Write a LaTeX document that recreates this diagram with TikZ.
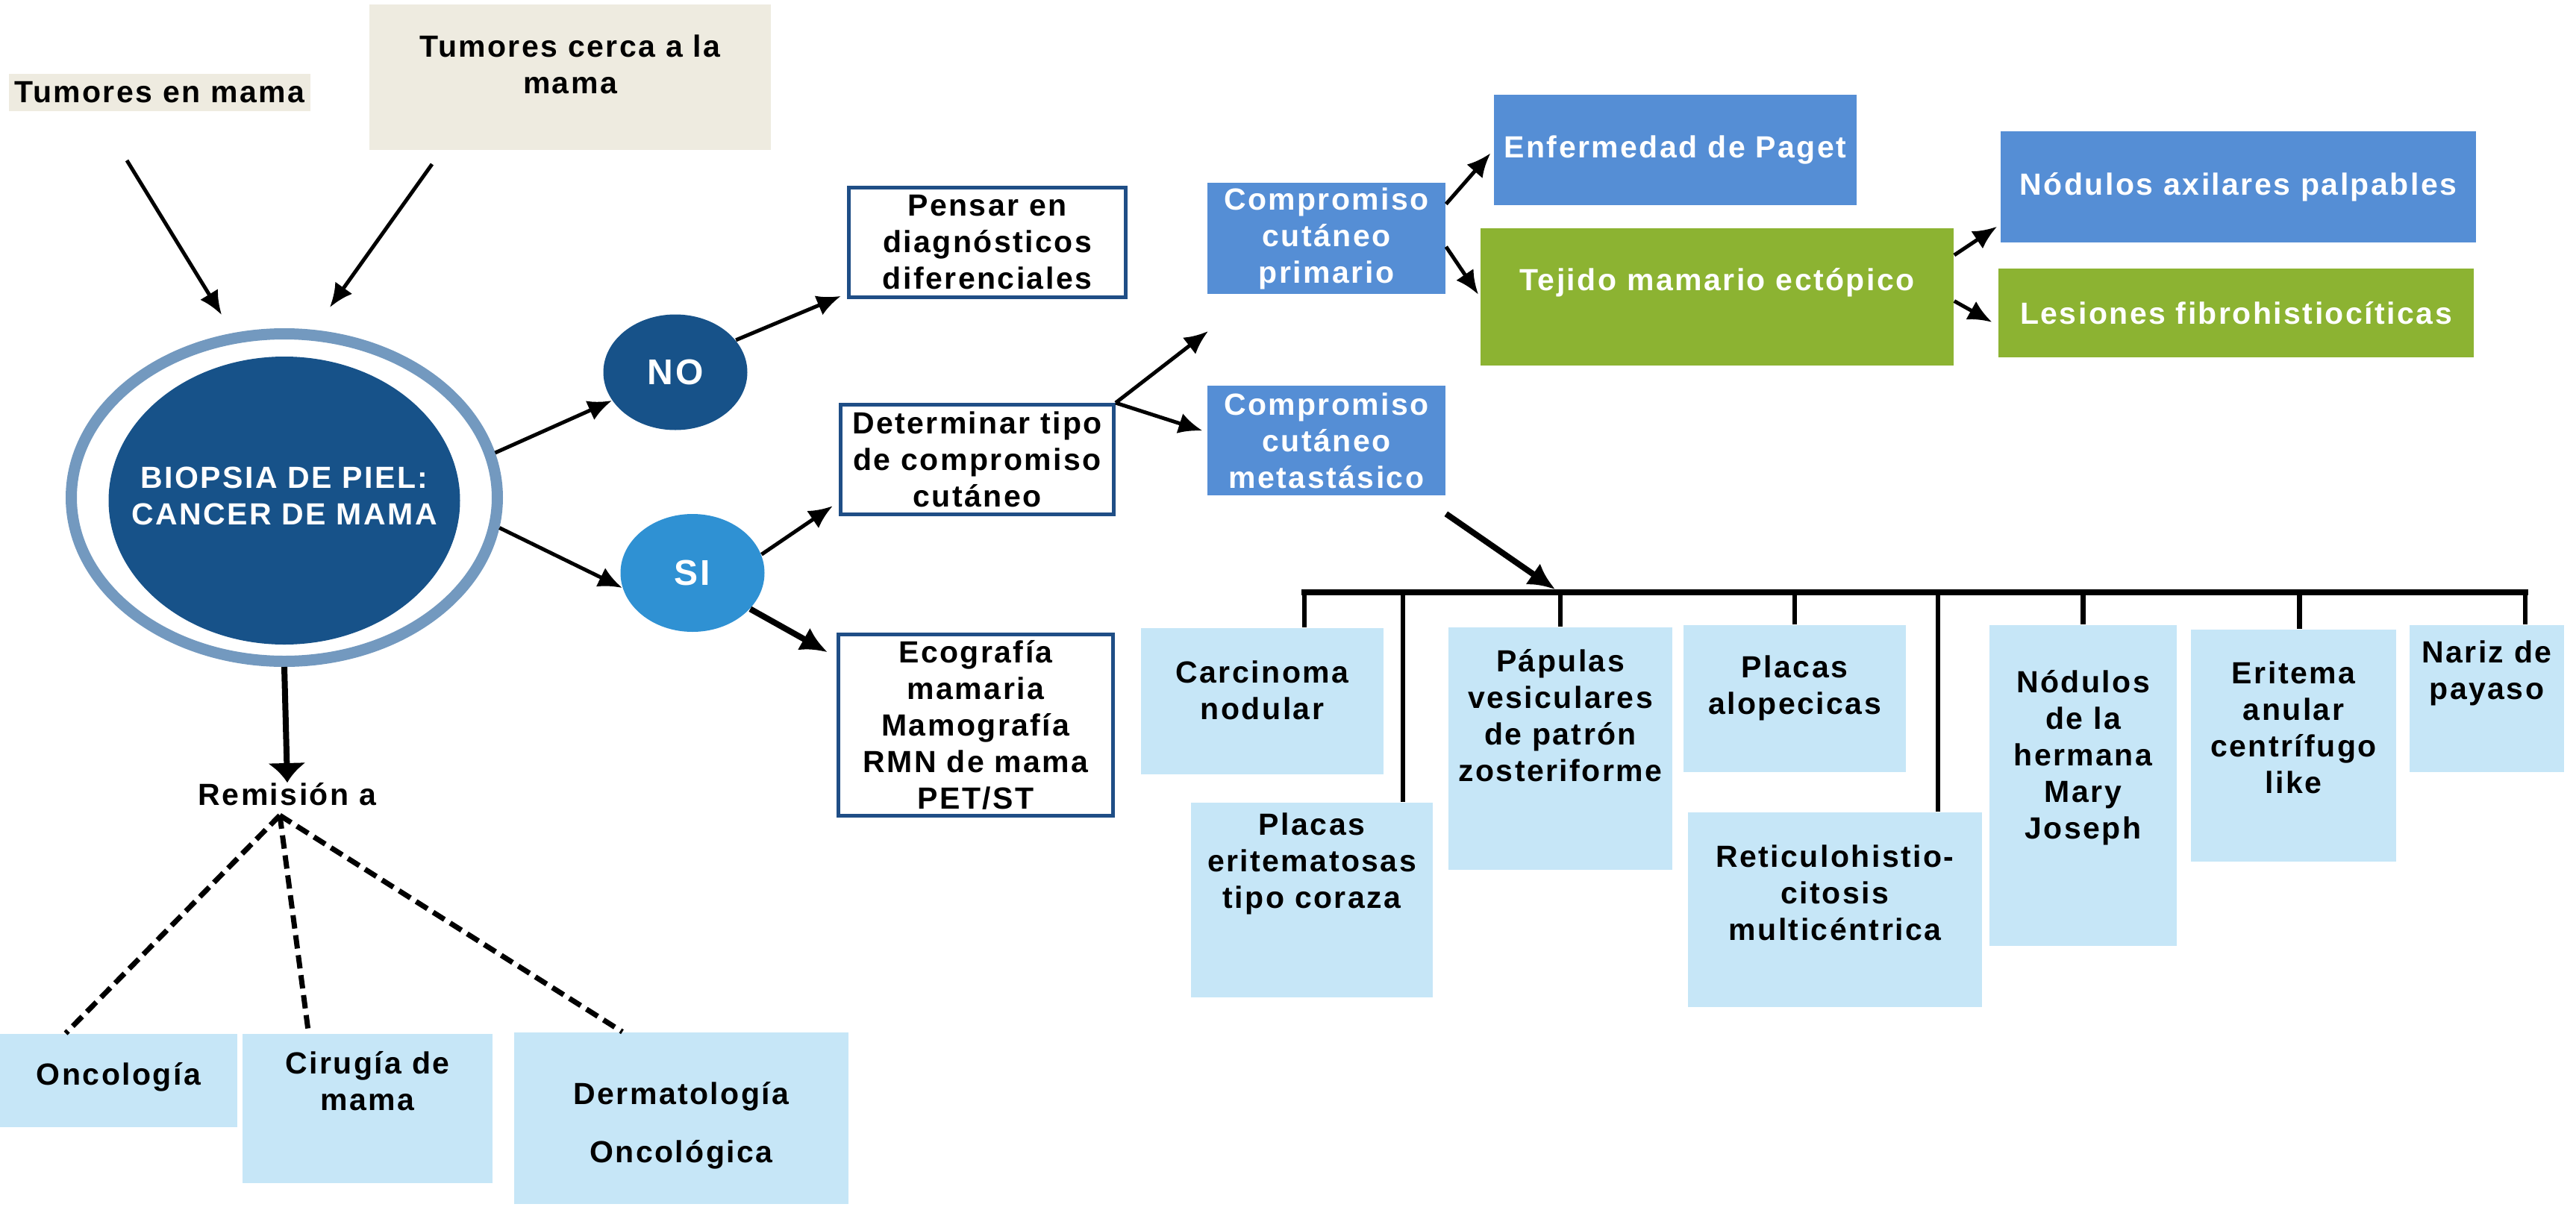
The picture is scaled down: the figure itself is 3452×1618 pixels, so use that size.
\documentclass[tikz,border=0pt]{standalone}
\usepackage{fontspec}
\setmainfont{Liberation Sans}[LetterSpace=6]
\usepackage{tikz}
\usetikzlibrary{arrows.meta}
\usetikzlibrary{shapes.geometric}
\definecolor{beige}{HTML}{EEEBE0}
\definecolor{ringblue}{HTML}{7399BF}
\definecolor{darkblue}{HTML}{175289}
\definecolor{siblue}{HTML}{2F91D3}
\definecolor{midblue}{HTML}{558ED5}
\definecolor{leafgreen}{HTML}{8CB332}
\definecolor{paleblue}{HTML}{C6E6F7}
\definecolor{frameblue}{HTML}{1F4E86}
\tikzstyle{tanbox}=[rectangle, inner sep=0pt, fill=beige]
\tikzstyle{ring}=[ellipse, inner sep=0pt, draw=ringblue, line width=3.75pt]
\tikzstyle{core}=[ellipse, inner sep=0pt, fill=darkblue]
\tikzstyle{bubble}=[ellipse, inner sep=0pt, text=white, font=\bfseries\fontsize{12}{14}\selectfont]
\tikzstyle{framebox}=[rectangle, inner sep=0pt, draw=frameblue, line width=1.25pt, fill=white, align=center]
\tikzstyle{midbox}=[rectangle, inner sep=0pt, fill=midblue, text=white, align=center]
\tikzstyle{leafbox}=[rectangle, inner sep=0pt, fill=leafgreen, text=white, align=center]
\tikzstyle{palebox}=[rectangle, inner sep=0pt, fill=paleblue]
\tikzstyle{txt}=[inner sep=0pt, align=center]
\tikzstyle{edge}=[-{Latex[length=8pt, width=7pt]}, line width=1.25pt]
\tikzstyle{bigedge}=[-{Latex[length=9pt, width=8.5pt]}, line width=2pt]
\tikzstyle{downedge}=[-{Latex[length=6.5pt, width=13pt]}, line width=2pt]
\tikzstyle{dashline}=[line width=1.75pt, dash pattern=on 4.5pt off 2.25pt]
\tikzstyle{rail}=[line width=2pt, line cap=rect]
\tikzstyle{drop}=[line width=1.7pt]

\begin{document}
\begin{tikzpicture}[x=0.25pt, y=-0.25pt, font=\bfseries\fontsize{10.25}{12.25}\selectfont]
\useasboundingbox (0,0) rectangle (3452,1618);

\draw (214,124) node[tanbox, minimum width=101pt, minimum height=12.5pt] (tumEn) {Tumores en mama};
\draw (764,103) node[tanbox, minimum width=134.5pt, minimum height=48.75pt] (tumCerca) {};
\draw (tumCerca) node[txt, yshift=4.25pt] (tumCercaT) {Tumores cerca a la\\mama};

\draw (381,667) node[ring, minimum width=142.75pt, minimum height=109.75pt] (bio) {};
\draw (381,671) node[core, minimum width=117.75pt, minimum height=96.5pt] (bioCore) {};
\draw (bioCore) node[txt, text=white, yshift=1.5pt] (bioT) {BIOPSIA DE PIEL:\\CANCER DE MAMA};

\draw (905,499) node[bubble, fill=darkblue, minimum width=48.25pt, minimum height=38.75pt] (no) {NO};
\draw (928,768) node[bubble, fill=siblue, minimum width=48.25pt, minimum height=39.5pt] (si) {SI};

\draw (1323,325) node[framebox, minimum width=92.75pt, minimum height=36.75pt] (pensar) {Pensar en\\diagnósticos\\diferenciales};
\draw (1309.5,616) node[framebox, minimum width=91.5pt, minimum height=36.75pt] (det) {Determinar tipo\\de compromiso\\cutáneo};
\draw (1307.5,972) node[framebox, minimum width=92pt, minimum height=60.75pt] (eco) {Ecografía\\mamaria\\Mamografía\\RMN de mama\\PET/ST};

\draw (1777.5,319.5) node[midbox, minimum width=79.75pt, minimum height=37.25pt] (prim) {Compromiso\\cutáneo\\primario};
\draw (1777.5,590.5) node[midbox, minimum width=79.75pt, minimum height=36.75pt] (met) {Compromiso\\cutáneo\\metastásico};
\draw (2245,201) node[midbox, minimum width=121.5pt, minimum height=37pt] (paget) {Enfermedad de Paget};
\draw (2301,398) node[leafbox, minimum width=158.5pt, minimum height=46pt] (tej) {};
\draw (tej) node[txt, text=white, yshift=4.75pt] (tejT) {Tejido mamario ectópico};
\draw (2999.5,250.5) node[midbox, minimum width=159.25pt, minimum height=37.25pt] (nax) {Nódulos axilares palpables};
\draw (2996.5,419.5) node[leafbox, minimum width=159.25pt, minimum height=29.75pt] (les) {Lesiones fibrohistiocíticas};

\draw (385,1065) node[txt] (rem) {Remisión a};
\draw (159,1448.5) node[palebox, minimum width=79.5pt, minimum height=31.25pt] (onc) {};
\draw (onc) node[txt, yshift=1.25pt] (oncT) {Oncología};
\draw (492.5,1486) node[palebox, minimum width=83.75pt, minimum height=50pt] (cir) {};
\draw (cir) node[txt, yshift=9.1pt] (cirT) {Cirugía de\\mama};
\draw (913,1499) node[palebox, minimum width=112pt, minimum height=57.5pt] (derm) {};
\draw (derm) node[txt, yshift=-2.5pt] (dermT) {Dermatología\\[7.25pt]Oncológica};

\draw (1691.5,940) node[palebox, minimum width=81.25pt, minimum height=49pt] (carc) {};
\draw (carc) node[txt, yshift=3.75pt] (carcT) {Carcinoma\\nodular};
\draw (1758,1206.5) node[palebox, minimum width=81pt, minimum height=65.25pt] (perit) {};
\draw (perit) node[txt, yshift=12.25pt] (peritT) {Placas\\eritematosas\\tipo coraza};
\draw (2091,1003.5) node[palebox, minimum width=75pt, minimum height=81.25pt] (pap) {};
\draw (pap) node[txt, yshift=11pt] (papT) {Pápulas\\vesiculares\\de patrón\\zosteriforme};
\draw (2405,936.5) node[palebox, minimum width=74.5pt, minimum height=49.25pt] (alop) {};
\draw (alop) node[txt, yshift=3.6pt] (alopT) {Placas\\alopecicas};
\draw (2459,1219.5) node[palebox, minimum width=98.5pt, minimum height=65.25pt] (ret) {};
\draw (ret) node[txt, yshift=5.75pt] (retT) {Reticulohistio-\\citosis\\multicéntrica};
\draw (2791.5,1053) node[palebox, minimum width=62.75pt, minimum height=107.5pt] (nher) {};
\draw (nher) node[txt, yshift=9.25pt] (nherT) {Nódulos\\de la\\hermana\\Mary\\Joseph};
\draw (3073.5,999.5) node[palebox, minimum width=68.75pt, minimum height=77.75pt] (erit) {};
\draw (erit) node[txt, yshift=6.1pt] (eritT) {Eritema\\anular\\centrífugo\\like};
\draw (3332.5,936.5) node[palebox, minimum width=51.75pt, minimum height=49.25pt] (nariz) {};
\draw (nariz) node[txt, yshift=8.5pt] (narizT) {Nariz de\\payaso};

\coordinate (in1) at (170,215);
\coordinate (in1e) at (297,422);
\coordinate (in2) at (579,220);
\coordinate (in2e) at (442,412);
\coordinate (primTip) at (1619,444);
\coordinate (metOut) at ([yshift=-6pt]met.south east);
\coordinate (hook) at (2084,790);
\coordinate (barL) at (1748,794);
\coordinate (barR) at (3384,794);
\coordinate (fan) at ([xshift=-2.5pt, yshift=-3pt]rem.south);

\draw[edge] (in1) -- (in1e);
\draw[edge] (in2) -- (in2e);
\draw[edge] (bio.12) -- (no);
\draw[edge] (bio.-8) -- (si.192);
\draw[edge, shorten >=2.25pt] (no.28) -- (pensar.200);
\draw[edge, shorten >=2.5pt] (si.15) -- (det.197);
\draw[bigedge, shorten >=3.5pt] (si.-32) -- (eco.154);
\draw[edge] (det.north east) -- (primTip);
\draw[edge, shorten >=1.5pt] (det.north east) -- (met.176);
\draw[edge, shorten >=1.5pt] (prim.16) -- (paget.west);
\draw[edge, shorten >=1pt] (prim.-4) -- (tej.west);
\draw[edge, shorten >=1.25pt] (tej.10) -- (nax.189);
\draw[edge, shorten >=2.25pt] (tej.-1) -- (les.183);
\draw[bigedge] (metOut) -- (hook);

\draw[rail] (barL) -- (barR);
\draw[drop] (barL) -- (barL |- carc.north);
\draw[drop] ([xshift=30.5pt]perit.north |- barL) -- ([xshift=30.5pt]perit.north);
\draw[drop] (pap.north |- barL) -- (pap.north);
\draw[drop] (alop.north |- barL) -- (alop.north);
\draw[drop] ([xshift=34.5pt]ret.north |- barL) -- ([xshift=34.5pt]ret.north);
\draw[drop] (nher.north |- barL) -- (nher.north);
\draw[drop] ([xshift=2pt]erit.north |- barL) -- ([xshift=2pt]erit.north);
\draw[drop] (barR) -- (barR |- nariz.north);

\draw[downedge] (bio.south) -- (rem.north);
\draw[dashline] (fan) -- ([xshift=-17.75pt]onc.north);
\draw[dashline] (fan) -- ([xshift=-19.75pt]cir.north);
\draw[dashline] (fan) -- ([xshift=-19.75pt]derm.north);
\end{tikzpicture}
\end{document}
